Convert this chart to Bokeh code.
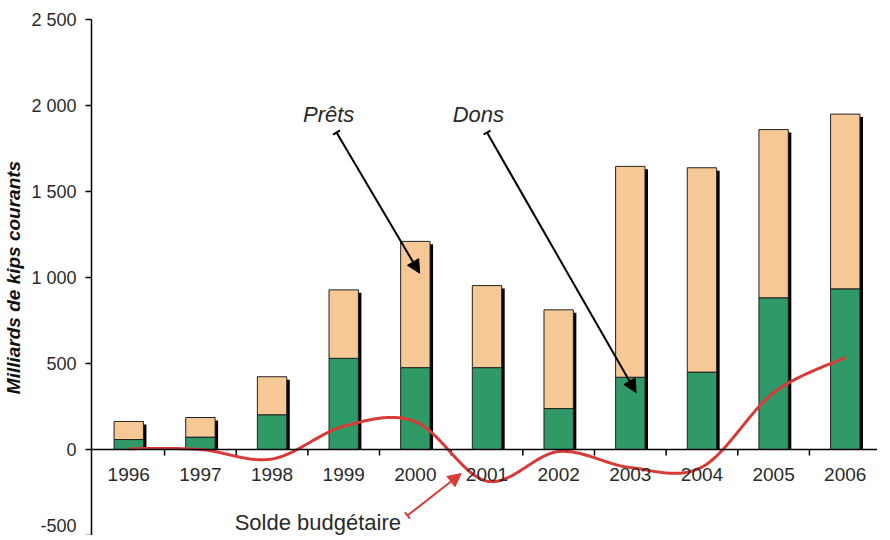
import numpy as np
from bokeh.plotting import figure
from bokeh.models import (Range1d, FixedTicker, Span, Label, LabelSet, ColumnDataSource,
                          Arrow, NormalHead, TeeHead)
from bokeh.core.properties import value
from bokeh.embed import file_html
from bokeh.resources import INLINE

# ---- data ----
years = [1996, 1997, 1998, 1999, 2000, 2001, 2002, 2003, 2004, 2005, 2006]
year_labels = ["1996", "1997", "1998", "1999", "2000", "2001", "2002", "2003", "2004", "2005", "2006"]
dons = [58, 72, 202, 530, 476, 476, 238, 420, 450, 882, 934]
prets = [105, 114, 221, 398, 734, 477, 574, 1226, 1188, 978, 1016]
solde = [5, 0, -55, 135, 162, -184, -12, -105, -102, 330, 535]
y_ticks = [-500, 0, 500, 1000, 1500, 2000, 2500]
y_tick_labels = ["-500", "0", "500", "1 000", "1 500", "2 000", "2 500"]

FONT = "Liberation Sans"
GREEN = "#2f9a68"
TAN = "#f5c896"
RED = "#d93a36"
TXT = "#2a2a2a"

totals = [d + p for d, p in zip(dons, prets)]

p = figure(width=877, height=535, output_backend="svg", toolbar_location=None,
           x_range=Range1d(1995.48, 2006.45), y_range=Range1d(-500, 2500),
           x_axis_location=None, min_border_left=91, min_border_right=0,
           min_border_top=19, min_border_bottom=0, background_fill_color="white",
           border_fill_color="white", outline_line_color=None)
p.xgrid.visible = False
p.ygrid.visible = False

# y axis
ax = p.yaxis[0]
ax.ticker = FixedTicker(ticks=y_ticks)
ax.major_label_overrides = {t: l for t, l in zip(y_ticks, y_tick_labels)}
ax.axis_line_color = "black"
ax.axis_line_width = 1.5
ax.major_tick_line_color = "black"
ax.major_tick_line_width = 1.5
ax.major_tick_out = 6
ax.major_tick_in = 0
ax.minor_tick_out = 0
ax.minor_tick_in = 0
ax.major_label_standoff = 9
ax.major_label_text_font = FONT
ax.major_label_text_font_size = "18px"
ax.major_label_text_color = TXT
ax.axis_label = "Milliards de kips courants"
ax.axis_label_text_font = FONT
ax.axis_label_text_font_size = "19px"
ax.axis_label_text_font_style = "bold italic"
ax.axis_label_text_color = "#111"
ax.axis_label_standoff = 4

# bar shadows (offset a few pixels right / down)
bw = 0.41
dx = 0.042
dy = 17
p.vbar(x=[y + dx for y in years], bottom=0, top=[t - dy for t in totals], width=bw,
       fill_color="black", line_color=None)
# stacked bars
p.vbar(x=years, bottom=0, top=dons, width=bw, fill_color=GREEN,
       line_color="#222", line_width=1)
p.vbar(x=years, bottom=dons, top=totals, width=bw, fill_color=TAN,
       line_color="#222", line_width=1)

# x axis line at zero
p.add_layout(Span(location=0, dimension="width", line_color="black", line_width=1.5))

# x tick marks at category boundaries
bounds = [y - 0.5 for y in years[1:]] + [years[-1] + 0.5]
p.ray(x=bounds, y=[0] * len(bounds), length=6, length_units="screen",
      angle=-np.pi / 2, line_color="black", line_width=1.5)

# x labels (annotation, not clipped by the frame)
lab_src = ColumnDataSource(dict(x=years, y=[0] * len(years), text=year_labels))
p.add_layout(LabelSet(x="x", y="y", text="text", source=lab_src, text_align="center",
                      text_baseline="top", y_offset=-18, text_font=value(FONT),
                      text_font_size=value("19px"), text_color=TXT))

# smoothed budget-balance line (Catmull-Rom / Bezier like spreadsheet smoothing)
def smooth(xs, ys, n=40):
    pts = [np.array([x, y], dtype=float) for x, y in zip(xs, ys)]
    P = [pts[0]] + pts + [pts[-1]]
    out_x, out_y = [], []
    for i in range(1, len(P) - 2):
        p0, p1, p2, p3 = P[i - 1], P[i], P[i + 1], P[i + 2]
        c1 = p1 + (p2 - p0) / 6.0
        c2 = p2 - (p3 - p1) / 6.0
        for t in np.linspace(0, 1, n, endpoint=(i == len(P) - 3)):
            b = ((1 - t) ** 3) * p1 + 3 * ((1 - t) ** 2) * t * c1 + 3 * (1 - t) * t ** 2 * c2 + t ** 3 * p2
            out_x.append(b[0])
            out_y.append(b[1])
    return out_x, out_y

sx, sy = smooth(years, solde)
p.line(sx, sy, line_color=RED, line_width=3)

# annotations
p.add_layout(Label(x=1998.79, y=1948, text="Prêts", text_font=FONT, text_font_size="22px",
                   text_font_style="italic", text_align="center", text_baseline="middle",
                   text_color=TXT))
p.add_layout(Label(x=2000.88, y=1948, text="Dons", text_font=FONT, text_font_size="22px",
                   text_font_style="italic", text_align="center", text_baseline="middle",
                   text_color=TXT))
p.add_layout(Label(x=1999.80, y=-424, text="Solde budgétaire", text_font=FONT,
                   text_font_size="22px", text_align="right", text_baseline="middle",
                   text_color=TXT))

p.add_layout(Arrow(start=TeeHead(size=8, line_color="black", line_width=2),
                   end=NormalHead(size=13, fill_color="black", line_color="black"),
                   x_start=1998.90, y_start=1843, x_end=2000.06, y_end=1025,
                   line_color="black", line_width=2))
p.add_layout(Arrow(start=TeeHead(size=8, line_color="black", line_width=2),
                   end=NormalHead(size=13, fill_color="black", line_color="black"),
                   x_start=2001.0, y_start=1843, x_end=2003.08, y_end=331,
                   line_color="black", line_width=2))
p.add_layout(Arrow(start=TeeHead(size=8, line_color=RED, line_width=2),
                   end=NormalHead(size=13, fill_color=RED, line_color=RED),
                   x_start=1999.89, y_start=-384, x_end=2000.64, y_end=-140,
                   line_color=RED, line_width=2))

open("out.html", "w").write(file_html(p, INLINE))
